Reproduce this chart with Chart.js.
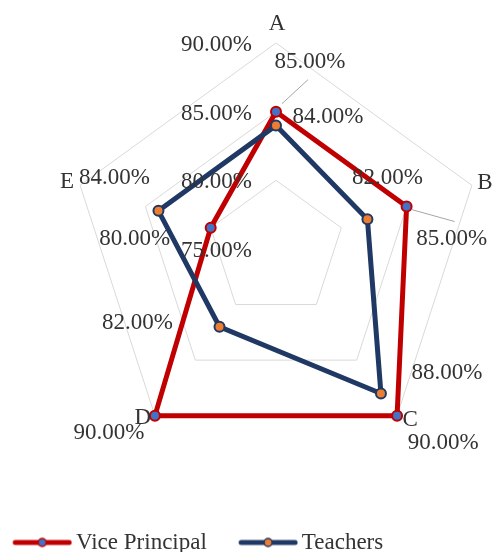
<!DOCTYPE html>
<html>
<head>
<meta charset="utf-8">
<script src="https://cdn.jsdelivr.net/npm/chart.js@4/dist/chart.umd.min.js"></script>
<style>
html,body{margin:0;padding:0;background:#ffffff;}
canvas{display:block;}
</style>
</head>
<body>
<canvas id="c" width="494" height="552"></canvas>
<script>
// ---- data ----
const categories = ['A', 'B', 'C', 'D', 'E'];
const vicePrincipal = [85, 85, 90, 90, 80];
const teachers = [84, 82, 88, 82, 84];
const seriesNames = ['Vice Principal', 'Teachers'];
const tickValues = [75, 80, 85, 90];

// ---- styles / layout ----
const FONT = "'Liberation Serif', 'Times New Roman', serif";
const FONT_SIZE = 23;
const TEXT_COLOR = '#333333';
const RED = '#C00000';
const NAVY = '#203864';
const BLUE_MK = '#4472C4';
const ORANGE_MK = '#ED7D31';
const GRID = '#d9d9d9';
const PLOT = { cx: 276, cy: 249, radius: 206 };

// label offsets (pixels from each point), per series
const labelOffsets = [
  [[34, -50], [45, 32], [46, 27], [-46, 17], [-76, 11]],
  [[52, -8], [20, -41], [66, -20], [-82, -4], [-44, -33]]
];
// leader lines (from, to) offsets for some labels
const leaderLines = [
  [[[6, -8], [32, -32]], [[5, 3], [48, 15]], null, null, null],
  [null, null, null, null, null]
];
const pointLabelOffsets = [[1, -19], [13, -2], [13, 4], [-12, 2], [-13, -3]];

function legendSwatch(lineColor, fill, border) {
  const cv = document.createElement('canvas');
  cv.width = 79; cv.height = 14;
  const g = cv.getContext('2d');
  g.strokeStyle = lineColor; g.lineWidth = 5; g.lineCap = 'round';
  g.beginPath(); g.moveTo(22, 7); g.lineTo(76, 7); g.stroke();
  g.beginPath(); g.arc(49, 7, 4, 0, Math.PI * 2);
  g.fillStyle = fill; g.fill();
  g.lineWidth = 1.5; g.strokeStyle = border; g.stroke();
  return cv;
}
const swatches = [legendSwatch(RED, BLUE_MK, RED), legendSwatch(NAVY, ORANGE_MK, NAVY)];

const fmt = v => v.toFixed(2) + '%';

const labelPlugin = {
  id: 'excelLabels',
  afterDatasetsDraw(chart) {
    const ctx = chart.ctx;
    const s = chart.scales.r;
    ctx.save();
    ctx.font = FONT_SIZE + 'px ' + FONT;
    ctx.fillStyle = TEXT_COLOR;
    ctx.textBaseline = 'middle';
    // axis tick labels along the A axis
    ctx.textAlign = 'right';
    tickValues.forEach(v => {
      const d = s.getDistanceFromCenterForValue(v);
      ctx.fillText(fmt(v), s.xCenter - 24, s.yCenter - d + 2);
    });
    // category labels
    ctx.textAlign = 'center';
    categories.forEach((c, i) => {
      const p = s.getPointPosition(i, s.drawingArea);
      ctx.fillText(c, p.x + pointLabelOffsets[i][0], p.y + pointLabelOffsets[i][1]);
    });
    // data labels
    chart.data.datasets.forEach((ds, d) => {
      const meta = chart.getDatasetMeta(d);
      meta.data.forEach((el, i) => {
        const ll = leaderLines[d][i];
        if (ll) {
          ctx.save();
          ctx.strokeStyle = '#a6a6a6';
          ctx.lineWidth = 1;
          ctx.beginPath();
          ctx.moveTo(el.x + ll[0][0], el.y + ll[0][1]);
          ctx.lineTo(el.x + ll[1][0], el.y + ll[1][1]);
          ctx.stroke();
          ctx.restore();
        }
        const o = labelOffsets[d][i];
        ctx.fillText(fmt(ds.data[i]), el.x + o[0], el.y + o[1]);
      });
    });
    ctx.restore();
  }
};

Chart.defaults.font.family = FONT;
Chart.defaults.font.size = FONT_SIZE;
Chart.defaults.color = TEXT_COLOR;

new Chart(document.getElementById('c'), {
  type: 'radar',
  data: {
    labels: categories,
    datasets: [
      {
        label: seriesNames[0],
        data: vicePrincipal,
        borderColor: RED,
        backgroundColor: 'rgba(0,0,0,0)',
        borderWidth: 5,
        borderJoinStyle: 'miter',
        pointRadius: 5,
        pointBorderWidth: 2,
        pointBackgroundColor: BLUE_MK,
        pointBorderColor: RED,
        fill: false,
        order: 2,
        clip: false
      },
      {
        label: seriesNames[1],
        data: teachers,
        borderColor: NAVY,
        backgroundColor: 'rgba(0,0,0,0)',
        borderWidth: 5,
        borderJoinStyle: 'miter',
        pointRadius: 5,
        pointBorderWidth: 2,
        pointBackgroundColor: ORANGE_MK,
        pointBorderColor: NAVY,
        fill: false,
        order: 1,
        clip: false
      }
    ]
  },
  options: {
    responsive: false,
    animation: false,
    devicePixelRatio: 1,
    layout: { padding: { left: -19, right: 0, top: 0, bottom: -12 } },
    elements: { line: { tension: 0 } },
    scales: {
      r: {
        min: 75,
        max: 90,
        ticks: { stepSize: 5, display: false },
        grid: { color: GRID, lineWidth: 1 },
        angleLines: { display: false },
        pointLabels: { display: false },
        afterFit: (scale) => {
          scale.xCenter = PLOT.cx;
          scale.yCenter = PLOT.cy;
          scale.drawingArea = PLOT.radius;
        }
      }
    },
    plugins: {
      tooltip: { enabled: false },
      legend: {
        position: 'bottom',
        align: 'start',
        labels: {
          usePointStyle: true,
          pointStyleWidth: 63.5,
          padding: 20,
          color: TEXT_COLOR,
          font: { family: FONT, size: FONT_SIZE },
          sort: (a, b) => a.datasetIndex - b.datasetIndex,
          generateLabels: (chart) => {
            const items = Chart.defaults.plugins.legend.labels.generateLabels(chart);
            items.forEach(it => { it.pointStyle = swatches[it.datasetIndex]; });
            return items;
          }
        }
      }
    }
  },
  plugins: [labelPlugin]
});
</script>
</body>
</html>
